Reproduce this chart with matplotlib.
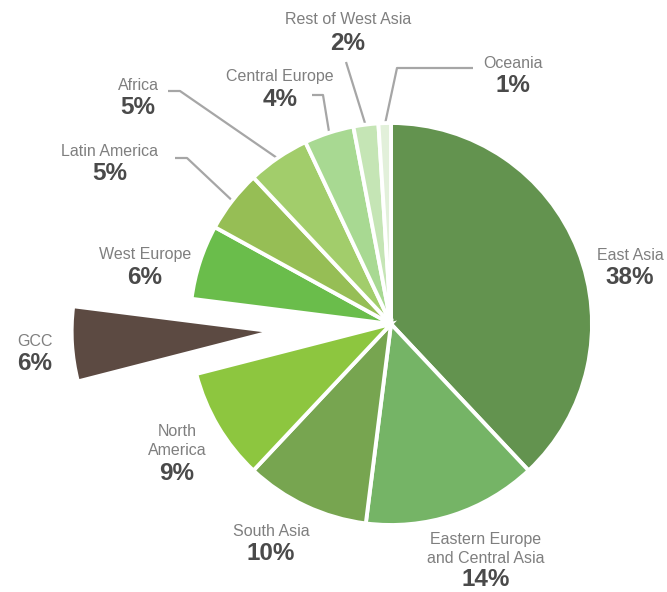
import matplotlib
matplotlib.use("Agg")
import matplotlib.pyplot as plt
import numpy as np

# Regional shares (percent), drawn clockwise from 12 o'clock
regions = ["East Asia", "Eastern Europe\nand Central Asia", "South Asia", "North\nAmerica",
           "GCC", "West Europe", "Latin America", "Africa", "Central Europe",
           "Rest of West Asia", "Oceania"]
shares = [38, 14, 10, 9, 6, 6, 5, 5, 4, 2, 1]
colors = ["#63934F", "#75B466", "#77A550", "#8DC63F", "#5C4A42", "#6ABD4B",
          "#96BE55", "#A2CD6B", "#A8D992", "#C5E5B5", "#E2F0DA"]
explode = [0, 0, 0, 0, 0.59, 0, 0, 0, 0, 0, 0]

W, H = 667, 592
CX, CY, R = 391, 324, 201  # pie centre and radius in pixels

def px(x, y):
    """Pixel position (from top-left) to data coordinates."""
    return (x - CX) / R, (CY - y) / R

fig = plt.figure(figsize=(W / 100, H / 100), dpi=100)
ax = fig.add_axes([0, 0, 1, 1])
ax.pie(shares, colors=colors, explode=explode, startangle=90, counterclock=False,
       radius=1.0, wedgeprops=dict(edgecolor="white", linewidth=2.8))
ax.set_aspect("auto")
ax.set_xlim(-CX / R, (W - CX) / R)
ax.set_ylim(-(H - CY) / R, CY / R)
ax.axis("off")

name_color = "#7F7F7F"
pct_color = "#4A4A4A"
font = ["Liberation Sans", "DejaVu Sans"]

# label anchors (pixel centres): name line(s) and the percentage below
label_pos = {
    "East Asia": (630, 255, 277),
    "Eastern Europe\nand Central Asia": (486, 549, 580),
    "South Asia": (271, 531, 553),
    "North\nAmerica": (177, 441, 474),
    "GCC": (35, 342, 363),
    "West Europe": (145, 255, 277),
    "Latin America": (110, 152, 174),
    "Africa": (138, 85, 107),
    "Central Europe": (280, 76, 99),
    "Rest of West Asia": (348, 20, 44),
    "Oceania": (513, 63, 86),
}

for name, val in zip(regions, shares):
    x, yn, yp = label_pos[name]
    ax.text(*px(x, yn), name, ha="center", va="center", fontsize=11.5,
            color=name_color, family=font, linespacing=1.38)
    ax.text(*px(x, yp), f"{val}%", ha="center", va="center", fontsize=17.5,
            color=pct_color, family=font, fontweight="bold")

# leader lines for the small slices: label end, elbow, then into the wedge
cum = np.cumsum([0] + shares)
leaders = {
    "Latin America": [(175, 158), (187, 158)],
    "Africa": [(168, 91), (180, 91)],
    "Central Europe": [(312, 95), (323, 95)],
    "Rest of West Asia": [(346, 62)],
    "Oceania": [(473, 68), (397, 68)],
}
for i, name in enumerate(regions):
    if name not in leaders:
        continue
    mid = (cum[i] + cum[i + 1]) / 2 / 100
    ang = np.deg2rad(90 - 360 * mid)
    pts = [px(*p) for p in leaders[name]]
    pts.append((0.99 * np.cos(ang), 0.99 * np.sin(ang)))
    xs, ys = zip(*pts)
    ax.plot(xs, ys, color="#A6A6A6", lw=1.6, solid_capstyle="butt", zorder=0)

fig.savefig("out.png", dpi=100, facecolor="white")
